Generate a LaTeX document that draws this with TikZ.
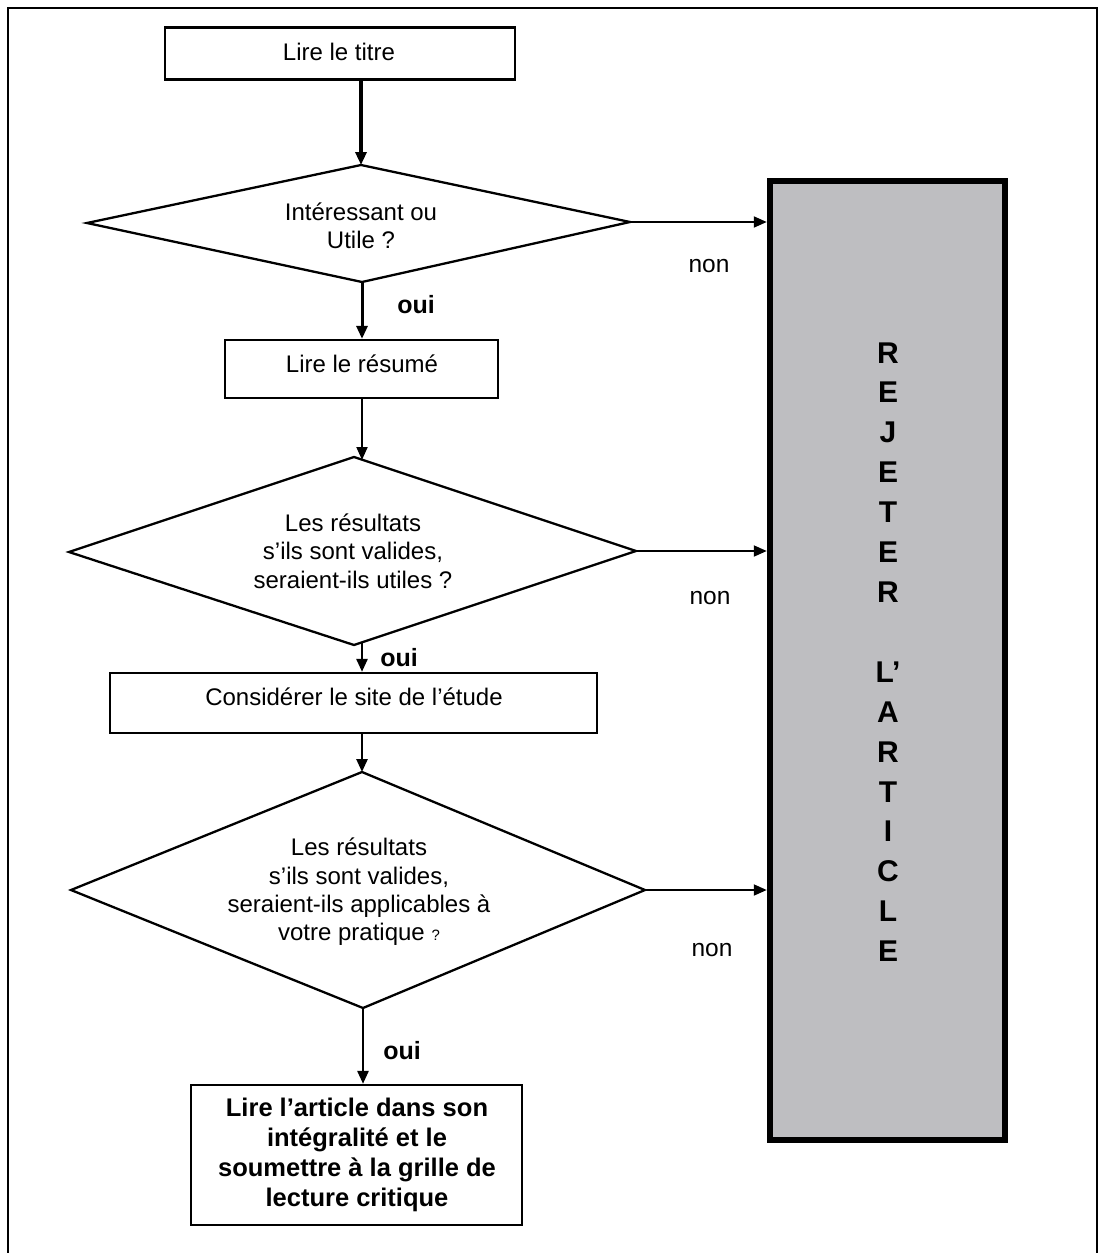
\documentclass[tikz,border=0pt]{standalone}
\usepackage{fontspec}
\setmainfont{Liberation Sans}
\usetikzlibrary{arrows.meta}
\definecolor{rejgray}{RGB}{190,190,193}
\begin{document}
\begin{tikzpicture}[x=1pt,y=-1pt,
  box/.style={draw,line width=2.3pt,rectangle,inner sep=0pt},
  txt/.style={inner sep=0pt,align=center,font=\fontsize{24}{28.3}\selectfont},
  btxt/.style={inner sep=0pt,align=center,font=\fontsize{25.5}{30}\selectfont\bfseries},
  dia/.style={draw,line width=2.3pt,line join=miter},
  arr/.style={-{Triangle[length=13pt,width=11pt]},line width=2.6pt},
  harr/.style={-{Triangle[length=13pt,width=11pt]},line width=2pt},
  lbl/.style={inner sep=0pt,font=\fontsize{25}{28}\selectfont\bfseries},
  nlbl/.style={inner sep=0pt,font=\fontsize{24.5}{28}\selectfont}]
\useasboundingbox (0,0) rectangle (1102,1253);
\fill[white] (0,0) rectangle (1102,1253);
% outer frame
\draw[line width=2pt] (8,1260) -- (8,8) -- (1097,8) -- (1097,1260);

\coordinate (ax) at (362,0);

% boxes
\node[box,minimum width=350pt,minimum height=52pt] (b1) at (340,53.5) {};
\node[txt] (t1) at (339,52) {Lire le titre};
\node[box,minimum width=273pt,minimum height=58pt] (b2) at (361.5,369) {};
\node[txt] (t2) at (362,364) {Lire le résumé};
\node[box,minimum width=487pt,minimum height=60pt] (b3) at (353.5,703) {};
\node[txt] (t3) at (354,697) {Considérer le site de l’étude};
\node[box,minimum width=331pt,minimum height=140pt] (b4) at (356.5,1155) {};
\node[btxt] (t4) at (357,1155) {Lire l’article dans son\\intégralité et le\\soumettre à la grille de\\lecture critique};

% reject box
\node[draw,line width=6.5pt,fill=rejgray,rectangle,inner sep=0pt,minimum width=235pt,minimum height=959pt] (rej) at (887.5,660.5) {};
\node[inner sep=0pt,align=center,font=\fontsize{30}{39.9}\selectfont\bfseries] (rejt) at (888,652)
  {R\\E\\J\\E\\T\\E\\R\\[40pt]L’\\A\\R\\T\\I\\C\\L\\E};

% diamond 1
\coordinate (d1t) at (361,165);
\coordinate (d1l) at (87,223);
\coordinate (d1r) at (630,222);
\coordinate (d1b) at (362,282);
\draw[dia] (d1t) -- (d1r) -- (d1b) -- (d1l) -- cycle;
\node[txt] (dt1) at (361,226) {Intéressant ou\\Utile ?};

% diamond 2
\coordinate (d2t) at (354,457);
\coordinate (d2l) at (69,552);
\coordinate (d2r) at (636,551);
\coordinate (d2b) at (354,645);
\coordinate (d2in) at (362,460);
\coordinate (d2out) at (362,642);
\draw[dia] (d2t) -- (d2r) -- (d2b) -- (d2l) -- cycle;
\node[txt] (dt2) at (353,551) {Les résultats\\s’ils sont valides,\\seraient-ils utiles ?};

% diamond 3
\coordinate (d3t) at (362,772);
\coordinate (d3l) at (71,890);
\coordinate (d3r) at (645,890);
\coordinate (d3b) at (363,1008);
\draw[dia] (d3t) -- (d3r) -- (d3b) -- (d3l) -- cycle;
\node[txt] (dt3) at (359,892) {Les résultats\\s’ils sont valides,\\seraient-ils applicables à\\votre pratique {\fontsize{15}{15}\selectfont ?}};

% vertical connectors
\draw[arr,line width=3.2pt] (b1.south -| d1t) -- (d1t);
\draw[arr,line width=3pt] (d1b) -- (d1b |- b2.north);
\draw[arr,line width=2pt] (b2.south -| ax) -- (d2in);
\draw[arr] (d2out) -- (d2out |- b3.north);
\draw[arr] (b3.south -| d3t) -- (d3t);
\draw[arr] (d3b) -- (d3b |- b4.north);

% non connectors
\draw[harr] (d1r) -- (d1r -| rej.west);
\draw[harr] (d2r) -- (d2r -| rej.west);
\draw[harr] (d3r) -- (d3r -| rej.west);

% labels
\node[lbl] (o1) at (416,305) {oui};
\node[lbl] (o2) at (399,658) {oui};
\node[lbl] (o3) at (402,1051) {oui};
\node[nlbl] (n1) at (709,266) {non};
\node[nlbl] (n2) at (710,598) {non};
\node[nlbl] (n3) at (712,950) {non};
\end{tikzpicture}
\end{document}
